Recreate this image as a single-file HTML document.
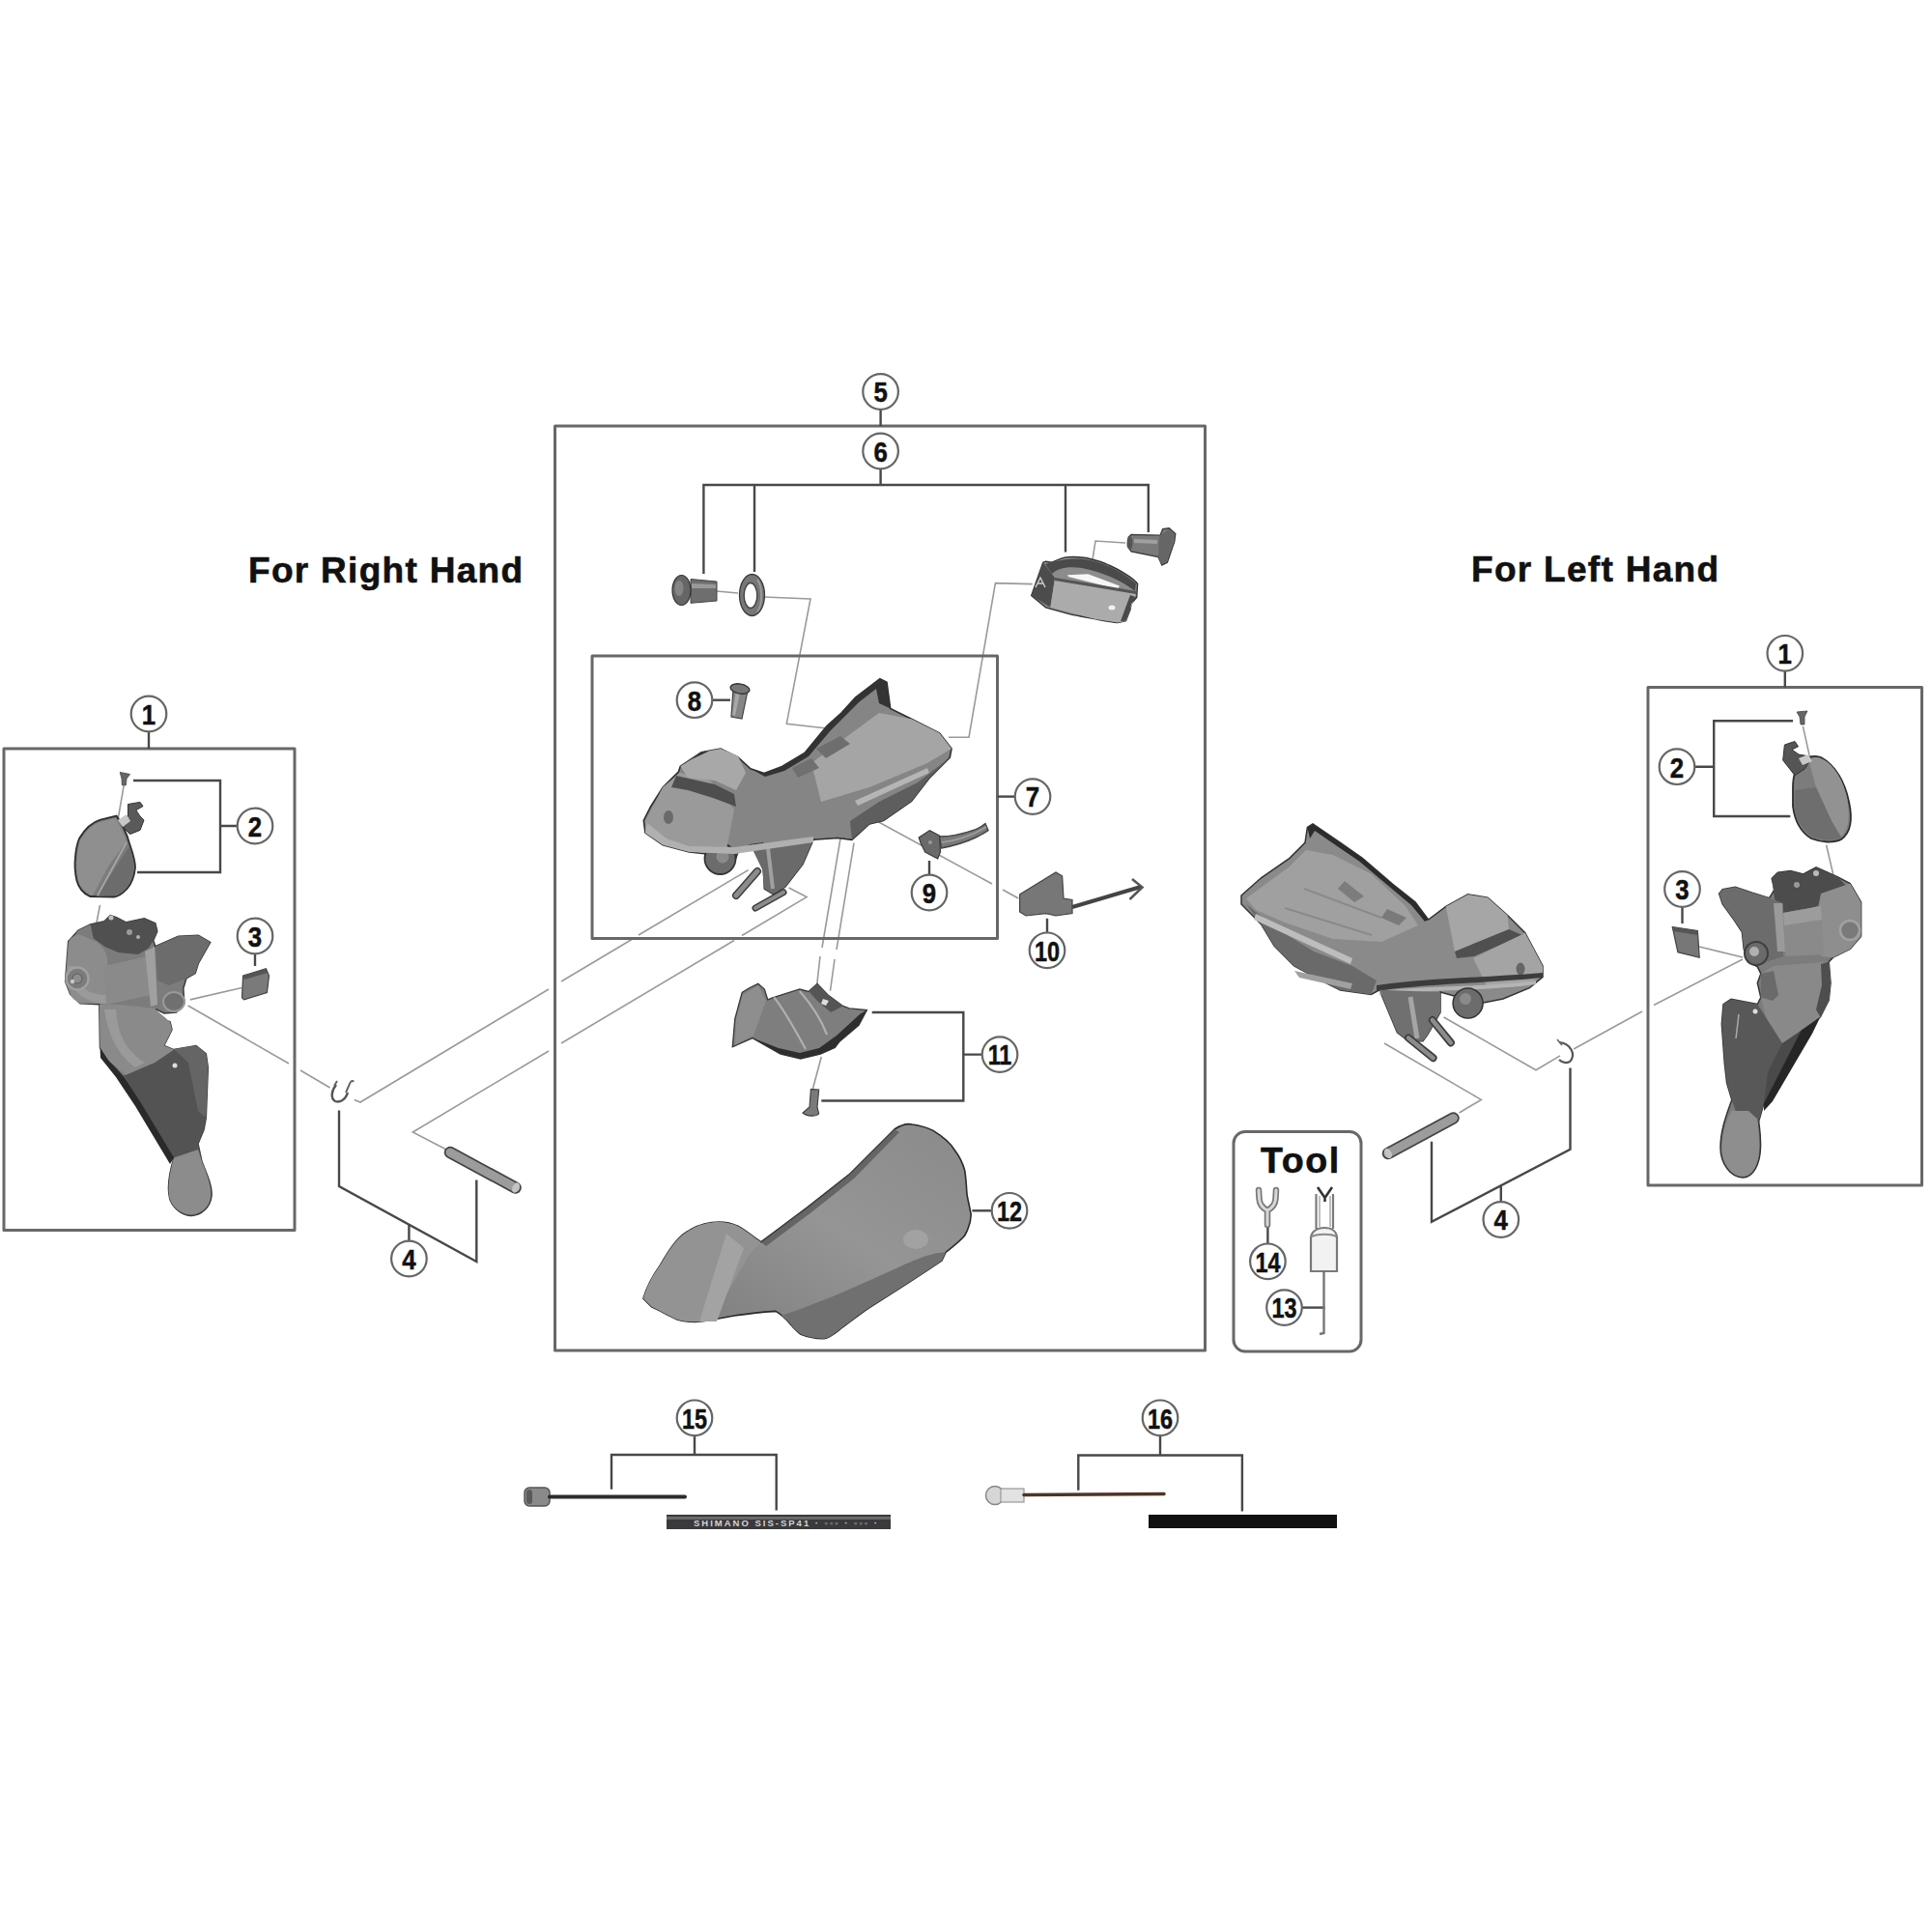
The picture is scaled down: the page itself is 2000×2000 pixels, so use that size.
<!DOCTYPE html>
<html><head><meta charset="utf-8">
<style>
html,body{margin:0;padding:0;background:#fff;width:2000px;height:2000px;overflow:hidden}
svg{display:block}
.fr{fill:none;stroke:#686868;stroke-width:3;stroke-linejoin:round}
.ld{fill:none;stroke:#484848;stroke-width:2.4}
.pj{fill:none;stroke:#9a9a9a;stroke-width:1.6}
.cc{fill:#fff;stroke:#666;stroke-width:2.2}
.nm{font-family:"Liberation Sans",sans-serif;font-weight:bold;font-size:30px;fill:#111;text-anchor:middle;stroke:#111;stroke-width:0.5}
.tt{font-family:"Liberation Sans",sans-serif;font-weight:bold;font-size:37px;fill:#111;letter-spacing:1.3px;stroke:#111;stroke-width:0.6}
</style></head>
<body>
<svg width="2000" height="2000" viewBox="0 0 2000 2000">
<defs>
<linearGradient id="g12" x1="0" y1="1" x2="1" y2="0">
<stop offset="0" stop-color="#7a7a7a"/><stop offset="0.55" stop-color="#959595"/><stop offset="1" stop-color="#8a8a8a"/>
</linearGradient>
</defs>
<rect width="2000" height="2000" fill="#fff"/>

<!-- projection lines -->
<g class="pj" id="proj">
<path d="M128.4,811.8 L122,849"/>
<path d="M103.5,937 L97.3,969"/>
<path d="M196.7,1034.9 L250.5,1022.5"/>
<path d="M194.6,1041 L299,1101 M311,1108 L341.6,1126"/>
<path d="M366.8,1138.5 L373,1141 L568,1024 M581,1016 L654,972.5 M661,968 L774.7,900.6"/>
<path d="M461.5,1189.8 L427.3,1172 L568,1088 M581,1080 L760,973.5 M768,968.5 L835,928.6 L816.6,919"/>
<path d="M742,612 L764,614 M791,618 L839,620 L814.3,749.2 L856,754"/>
<path d="M1068.7,604.6 L1030.4,603.6 L1003,763.2 L982,763.2"/>
<path d="M1165,562 L1134,560 L1128,599"/>
<path d="M872.5,830.7 L1027,915 M1038,921 L1054.3,930"/>
<path d="M870,868 L851,981 M849,990 L845.8,1018.7"/>
<path d="M884,872.6 L866,983 M864,993 L859.5,1025.6"/>
<path d="M850.3,1094 L841.2,1128"/>
<path d="M1433,1080 L1533.3,1138.4 L1510.5,1152"/>
<path d="M1494.6,1053 L1590,1107.7 L1615,1092.9"/>
<path d="M1629,1086 L1700,1047 M1712,1040.5 L1804,993"/>
<path d="M1759,980 L1804,991"/>
<path d="M1890.6,874.8 L1898,906.4"/>
<path d="M1866.4,751.8 L1873,781.6"/>
</g>

<!-- frames -->
<g class="fr">
<rect x="4" y="775" width="301" height="498.5"/>
<rect x="574.5" y="441" width="673" height="957"/>
<rect x="613" y="679" width="419.5" height="292.5"/>
<rect x="1706" y="711.5" width="283.5" height="515.5"/>
<rect x="1277" y="1171.5" width="132" height="227.5" rx="12"/>
</g>

<!-- leaders -->
<g class="ld">
<path d="M154,757V775"/>
<path d="M138,808H228V903H142M228,855H245.5"/>
<path d="M264,987V1000"/>
<path d="M351,1149.5V1228L493.3,1306V1221.5M423.4,1268V1284.5"/>
<path d="M911.6,424V441"/>
<path d="M911.6,485.5V502M728.4,594V502H1188.8V551M781,502V592M1103,502V571.5"/>
<path d="M1032.5,824.6H1050.5"/>
<path d="M737.5,724.7H756"/>
<path d="M962,905.5V891"/>
<path d="M1084,965.3V950.8"/>
<path d="M902.7,1048H997.3V1139.5H850.3M997.3,1091.6H1016.5"/>
<path d="M1006.4,1253.3H1026.5"/>
<path d="M1348,1353.6H1371.6"/>
<path d="M1312.4,1287V1270"/>
<path d="M719,1486V1506M633,1541.7V1506H803.7V1563.5"/>
<path d="M1201,1486V1506.5M1116.3,1542.8V1506.5H1285.9V1564.6"/>
<path d="M1847.8,694.8V711.5"/>
<path d="M1856,746.2H1774.2V845H1853.3M1754.5,793.7H1774.2"/>
<path d="M1741.5,939V956"/>
<path d="M1482,1181.7V1264.8L1625.5,1189.7V1105.4M1553.8,1227.2V1244"/>
</g>

<!-- parts -->
<g id="parts">
<!-- LEFT LEVER (part 1 right-hand) -->
<g id="lever-l">
<path d="M67.6,1015.9 L70.7,974.5 L81,963 L93.5,957 L108,953.8 L114.2,947.6 L120.4,949.7 L130.7,954.8 L149.4,950.7 L160.8,955.9 L162.8,964.2 L158.7,973.5 L160.8,979.7 L184.6,969.3 L205.3,968.3 L217.7,975.5 L205.3,997.3 L202.2,1007.6 L192.9,1012.8 L189.8,1023.2 L190.8,1038.7 L182.5,1048 L170,1049 L161.8,1044.9 L159.7,1054.2 L176,1057.7 L178,1066 L169.8,1082.5 L180,1086.6 L203,1082.5 L213.3,1090.8 L215.3,1105.3 L213.3,1157 L211,1169.5 L205,1184 L209,1202.6 C214,1215 220,1228 219,1238 C218,1250 208,1258 198.8,1258.5 C190,1259 180,1252 176,1242 C173,1232 175,1215 180,1198.4 L145,1140.5 L128.4,1115.6 L111.8,1097 L103.5,1084.6 L102.8,1039.7 L83,1038.7 L72.8,1029.4 Z" fill="#7c7c7c" stroke="#3a3a3a" stroke-width="1.5"/>
<!-- top dark -->
<path d="M93.5,957 L108,953.8 L114.2,947.6 L120.4,949.7 L130.7,954.8 L149.4,950.7 L160.8,955.9 L162.8,964.2 L158.7,973.5 L153.5,981.8 L143,988 L122.5,986 L108,979.7 L96.6,971.4 Z" fill="#505050"/>
<path d="M81,963 L93.5,957 L96.6,971.4 L108,979.7 L104,984 L85,975 L72,976 Z" fill="#7c7c7c"/>
<circle cx="115" cy="950" r="2.5" fill="#c0c0c0"/><circle cx="134" cy="965" r="3" fill="#9a9a9a"/><circle cx="143" cy="970" r="2" fill="#b0b0b0"/>
<!-- front face light -->
<path d="M70.7,976 C73,970 78,967 84,968 L100,975 C106,980 110,985 111,992 L112,1020 L110,1039 L83,1038.7 C78,1036 74,1033 72.8,1029.4 L67.6,1015.9 Z" fill="#8c8c8c"/>
<path d="M70,1000 C72,1025 85,1038 110,1039 L110,1030 C90,1030 78,1020 76,1000 Z" fill="#9a9a9a"/>
<circle cx="80" cy="1013" r="11.5" fill="#7c7c7c" stroke="#a0a0a0" stroke-width="2.5"/>
<circle cx="80" cy="1013" r="5" fill="#8e8e8e" stroke="#6a6a6a" stroke-width="1.5"/>
<circle cx="75" cy="1016" r="2.2" fill="#c8c8c8"/>
<!-- cylinder -->
<path d="M108,1000 L152,990 L157,1030 L110,1040 Z" fill="#8a8a8a"/>
<path d="M150,985 L160,980 L163,1040 L156,1042 Z" fill="#a0a0a0"/>
<!-- wing -->
<path d="M160.8,979.7 L184.6,969.3 L205.3,968.3 L217.7,975.5 L205.3,997.3 L202.2,1007.6 L192.9,1012.8 L175,1020 L163,1015 Z" fill="#6c6c6c"/>
<!-- boss right -->
<ellipse cx="180" cy="1037" rx="11" ry="10" fill="#707070" stroke="#999" stroke-width="2"/>
<!-- lower lever shading -->
<path d="M128,1113 L160,1100 L180,1086.6 L203,1082.5 L213.3,1090.8 L215.3,1105.3 L213.3,1157 L211,1169.5 L205,1184 L209,1202.6 L180,1198.4 L145,1140.5 Z" fill="#535353"/>
<path d="M103.5,1084.6 L102.8,1039.7 L125,1040 L160,1044 L176,1057.7 L178,1066 L169.8,1082.5 L180,1086.6 L160,1100 L130,1113 L112,1098 Z" fill="#8a8a8a"/>
<path d="M108,1045 C112,1070 120,1090 140,1105 L150,1100 C130,1088 122,1070 120,1045 Z" fill="#9a9a9a"/>
<path d="M180,1198.4 C175,1215 173,1232 176,1242 C180,1252 190,1258 198.8,1257 C208,1256 217,1250 218,1238 C219,1228 214,1215 209,1202.6 L205,1190 Z" fill="#8c8c8c"/>
<path d="M103.5,1084.6 L111.8,1097 L128.4,1115.6 L145,1140.5 L180,1198.4 L176,1205 L140,1145 L120,1115 L104,1095 Z" fill="#2a2a2a"/>
<path d="M180,1086 L203,1082.5 L213.3,1090.8 L215.3,1105.3 L213.3,1157 L205,1150 L195,1100 Z" fill="#656565"/>
<circle cx="181" cy="1103" r="2.5" fill="#ddd"/>
</g>
<!-- left cover part 2 -->
<g id="cover-l">
<path d="M82,868 C88,858 96,851 104,848.7 L120.6,844.6 C126,852 131,862 134,873 C137,882 140,890 140,898 C139,908 136,915 131.6,920 C127,925 123,928 118,928.5 L93,928 C86,925 81,918 79.5,911.8 C77.5,903 77,895 78,887 C78.5,880 80,873 82,868 Z" fill="#7c7c7c" stroke="#2e2e2e" stroke-width="1.8"/>
<path d="M83,870 C89,860 96,853 104,851 L119,847 C124,854 128,862 131,871 L112,897 L96,927 L93,926 C87,923 82,917 81,911 C79,903 79,895 80,887 C80.5,880 81.5,874 83,870 Z" fill="#8f8f8f"/>
<path d="M134,876 L100,928 L118,927 C123,926 127,923 131,919 C135,914 138,907 138.5,898 C138.5,890 136,883 134,876 Z" fill="#6c6c6c"/>
<path d="M131,872 L101,927" stroke="#a8a8a8" stroke-width="1.6"/>
<path d="M132.5,832.5 L145,830.4 L148,834.6 L140.8,838.7 L145,845 L149,849 L145,859.4 L134.6,863.6 L128.4,857.4 L132.5,845 Z" fill="#5a5a5a" stroke="#333" stroke-width="1"/>
<path d="M122,849 L131,843 L135,850 L127,856 Z" fill="#c8c8c8"/>
<path d="M124.2,799.4 L134.6,801.5 L131,806 L130.4,812.8 L126.3,812.8 L126,806 Z" fill="#666" stroke="#444" stroke-width="0.8"/>
</g>
<!-- left part 3 -->
<path d="M251.6,1010 L275.4,1002.8 L278.5,1010 L276.4,1027.6 L252.6,1034.9 L250.5,1032.8 Z" fill="#7a7a7a" stroke="#444" stroke-width="1.2"/>
<path d="M251.6,1010 L275.4,1002.8 L277,1007 L253,1014 Z" fill="#555"/>
<!-- left clip -->
<path d="M348,1123 C343,1129 342,1137 347,1140 C352,1142 358,1138 360,1131" fill="none" stroke="#555" stroke-width="2.4"/>
<path d="M346,1124 L349,1119 M358,1131 L362,1122 C363,1119 365,1118 366,1120" fill="none" stroke="#666" stroke-width="2"/>
<!-- left pin -->
<line x1="466" y1="1193" x2="533.5" y2="1229.5" stroke="#444" stroke-width="12.5" stroke-linecap="round"/>
<line x1="466" y1="1193" x2="533.5" y2="1229.5" stroke="#9c9c9c" stroke-width="9" stroke-linecap="round"/>
<ellipse cx="534" cy="1229.5" rx="3.5" ry="5.5" transform="rotate(28 534 1229.5)" fill="#c4c4c4"/>
<!-- P2 -->
<!-- BOX5: bolt 6a -->
<path d="M715,599.5 L742,602 L742,622 L715,624.3 Z" fill="#6e6e6e" stroke="#444" stroke-width="1"/>
<path d="M716,604 L741,605 L741,609 L716,609 Z" fill="#999"/>
<ellipse cx="705.5" cy="611" rx="9.5" ry="15.5" fill="#666" stroke="#333" stroke-width="1.2"/>
<ellipse cx="703" cy="609" rx="4.5" ry="8" fill="#858585"/>
<!-- washer -->
<ellipse cx="778.5" cy="616" rx="13" ry="21.5" fill="#777" stroke="#3a3a3a" stroke-width="1.3"/>
<ellipse cx="777" cy="616.5" rx="6.8" ry="13" fill="#fff" stroke="#444" stroke-width="1.4"/>
<path d="M784,600 C789,606 790,626 784,633" fill="none" stroke="#999" stroke-width="2"/>
<!-- clamp band 6c -->
<path d="M1067.7,616.6 L1079.8,582.2 L1082.6,581.2 L1089.1,582.2 C1095,579 1100,577 1105.9,576.6 C1115,576 1120,577 1124.5,577.5 C1135,580 1142,582 1147.8,585 C1155,588 1160,591 1166.5,595.2 C1171,598 1175,601 1177.6,604.5 L1176.7,618.5 L1171,625 L1170.2,630.6 L1165.5,642.7 L1157.2,644.6 C1150,644 1140,642 1133.9,640.9 C1120,638 1112,637 1105.9,635.3 L1082.6,628.8 Z" fill="#8c8c8c" stroke="#333" stroke-width="1.4"/>
<path d="M1082,584 C1095,580 1105,578 1120,578.5 C1140,581 1160,590 1176,604 L1175,612 C1160,600 1140,592 1120,588 C1105,586 1095,588 1089,594 Z" fill="#4a4a4a"/>
<path d="M1105,595.2 L1126.4,594.3 L1159,606.4 L1157,610 L1129,602.7 L1105.9,597.1 Z" fill="#f6f6f6"/>
<path d="M1067.7,616.6 L1079.8,582.2 L1091.9,598 L1087.3,628.8 Z" fill="#4c4c4c"/>
<path d="M1072,608 L1077,598 L1082,608 M1074,604 L1080,604" fill="none" stroke="#cfcfcf" stroke-width="1.4"/>
<path d="M1091.9,600 L1143.2,608.3 L1176,614 L1170.2,630.6 L1165.5,642.7 L1157.2,644.6 L1133.9,640.9 L1087.3,628.8 Z" fill="#ababab"/>
<path d="M1091.9,598 L1143.2,606.3 L1176,612 L1176,615 L1143.2,609.5 L1091.9,601 Z" fill="#555"/>
<path d="M1170,616 L1176.7,618.5 L1171,625 L1170.2,630.6 L1165.5,642.7 L1160,643 Z" fill="#4a4a4a"/>
<ellipse cx="1151" cy="629" rx="3.5" ry="2.5" fill="#f0f0f0"/>
<!-- T-bolt 6d -->
<path d="M1168.3,556 L1171,553.3 L1201,554.2 L1203.7,547.7 L1210.3,546.8 L1216.8,552.4 L1215.8,560.7 L1208.4,582.2 L1202.8,585 L1199,576.6 L1171,571 L1167.4,565.4 Z" fill="#7a7a7a" stroke="#3a3a3a" stroke-width="1.3"/>
<path d="M1200,555 L1210,548 L1216,553 L1208,582 L1202,584 L1199,576 Z" fill="#666"/>
<path d="M1174,558 L1198,559 L1198,563 L1174,562 Z" fill="#a0a0a0"/>
<ellipse cx="1169.5" cy="562" rx="3" ry="7" fill="#555"/>
<!-- BODY part 7 -->
<g id="body7">
<path d="M666.3,849.4 L668,862 L686.2,874.8 L713.4,882 L729.7,883.8 L731.5,893 L746,903 L758.7,897 L764,882 L776.8,874.8 L789.5,873 L791.3,920 L800.4,925.5 L813,918 L831,894.7 L842,869.3 L867.4,867.5 L881.9,869.3 L900,853 L914.5,849.4 L943.5,829.5 L961.6,806 L983.3,784.2 L985,775 L972.5,758.8 L943.5,744.3 L921.7,733.5 L918,706.3 L910.9,702.7 L885.5,722 L871,738 L856,751.5 L833,779.5 L809.6,793.5 L791,800.4 L777,795.8 L764,784 L746,775.1 L726,778.8 L704.3,793.3 L702.5,798.7 L686.2,815 L673.6,835 Z" fill="#858585" stroke="#2e2e2e" stroke-width="1.6"/>
<!-- lower structure -->
<path d="M776.8,874.8 L789.5,873 L842,869.3 L831,894.7 L813,918 L800.4,925.5 L791.3,920 L789,900 Z" fill="#6a6a6a"/>
<circle cx="745.5" cy="889" r="16" fill="#6c6c6c" stroke="#333" stroke-width="1.8"/>
<circle cx="748" cy="887" r="6.5" fill="#8a8a8a"/>
<path d="M762,927 L784,902" stroke="#3e3e3e" stroke-width="8" stroke-linecap="round"/>
<path d="M762,927 L784,902" stroke="#8c8c8c" stroke-width="5" stroke-linecap="round"/>
<path d="M782,940 L811,923.7" stroke="#3e3e3e" stroke-width="7" stroke-linecap="round"/>
<path d="M782,940 L811,923.7" stroke="#8c8c8c" stroke-width="4" stroke-linecap="round"/>
<path d="M795,878 L800,920" stroke="#a0a0a0" stroke-width="4"/>
<!-- front light face -->
<path d="M668,850 L686,815 L704,800 L735,808 L760,838 L752,880 L729,883 L713,881 L686,874 L668,862 Z" fill="#9a9a9a"/>
<path d="M668,862 L686.2,874.8 L713.4,882 L760,884 L842,872 L842,866 L760,877 L713,876 L690,868 L670,852 Z" fill="#b0b0b0"/>
<ellipse cx="692" cy="846" rx="5" ry="7" fill="#6a6a6a"/>
<!-- top block -->
<path d="M704.3,793.3 L726,778.8 L746,775.1 L764,782.4 L772,800 L762,818 L740,808 L712,805 Z" fill="#a8a8a8"/>
<path d="M700,803 L740,812 L760,822 L762,835 L738,826 L712,818 L695,815 Z" fill="#4e4e4e"/>
<path d="M704.3,793.3 L726,778.8 L746,775.1 L735,777 L716,786 Z" fill="#2e2e2e"/>
<!-- top dark rim -->
<path d="M777,795.8 L791,800.4 L809.6,793.5 L833,779.5 L856,751.5 L871,738 L885.5,722 L910.9,702.7 L918,706.3 L921.7,733.5 L910,728 L907,713 L889,727 L874,742 L860,756 L837,783 L812,798 L792,804 Z" fill="#333"/>
<!-- top surface light -->
<path d="M840,790 L880,760 L910,738 L943.5,744.3 L972.5,758.8 L985,775 L960,790 L900,815 L850,830 Z" fill="#a5a5a5"/>
<path d="M845,775 L870,762 L880,770 L855,785 Z" fill="#6e6e6e"/>
<path d="M820,795 L840,785 L848,795 L826,805 Z" fill="#707070"/>
<!-- right underside dark -->
<path d="M983.3,784.2 L961.6,806 L943.5,829.5 L914.5,849.4 L900,853 L881.9,869.3 L880,850 L910,830 L950,810 Z" fill="#5e5e5e"/>
<path d="M885,829 L960,795 L962,800 L888,834 Z" fill="#b5b5b5"/>
</g>
<!-- pin 8 -->
<path d="M759,713 L774,715 L768,744 L757,742 Z" fill="#868686" stroke="#444" stroke-width="1.2"/>
<path d="M762,716 L766,717 L761,741 L758,740 Z" fill="#a8a8a8"/>
<ellipse cx="766" cy="713" rx="10" ry="5" transform="rotate(10 766 713)" fill="#777" stroke="#333" stroke-width="1.3"/>
<!-- part 9 -->
<path d="M972,866 C980,866 995,864 1010,858.6 C1014,857 1017,855 1020,852.6 L1023,859.6 C1018,863 1014,865 1010,867 C995,874 985,876 974.5,878 Z" fill="#7a7a7a" stroke="#444" stroke-width="1.4"/>
<path d="M975,872 C990,870 1005,866 1021,856" fill="none" stroke="#a0a0a0" stroke-width="1.5"/>
<path d="M951.2,867 L962.4,859.6 L972.6,865 L973.5,882 L970.7,889 L957.7,882 L953,872.6 Z" fill="#6a6a6a" stroke="#3a3a3a" stroke-width="1.2"/>
<circle cx="963" cy="872" r="2" fill="#999"/>
<!-- part 10 -->
<path d="M1057,925 L1093,903 L1099.6,906.8 L1101,930 L1110,931.4 L1110,945.6 L1093,948 L1082.8,945.6 L1062,948 L1055.6,944 L1055.6,926 Z" fill="#777" stroke="#444" stroke-width="1.2"/>
<path d="M1110,939 L1181,918" stroke="#444" stroke-width="4"/>
<path d="M1172,910 L1182.5,918.5 L1169.5,931" fill="none" stroke="#555" stroke-width="2.5"/>
<!-- part 11 -->
<path d="M758.3,1083.7 L760.8,1054.7 L768.2,1027.4 L774.8,1023.2 L784.8,1018.3 L791.4,1024 L794.7,1034.8 L801.3,1032.3 L827.8,1024 L837,1026.5 L846,1018.3 L856.8,1029.8 L872.6,1041.4 L879.2,1043.9 L897.4,1045.6 L889,1061.3 L869.3,1077.9 L864.3,1084.5 L849.4,1091.1 L828.7,1096 L808,1091.1 L779,1074.6 Z" fill="#7e7e7e" stroke="#3a3a3a" stroke-width="1.3"/>
<path d="M760.8,1082 L762,1055 L769,1030 L785,1020 L793,1036 L780,1072 Z" fill="#8e8e8e"/>
<path d="M801.3,1032.3 C815,1050 825,1070 834,1086" fill="none" stroke="#b0b0b0" stroke-width="2.2"/>
<path d="M827.8,1026 C840,1040 850,1055 856,1071" fill="none" stroke="#b0b0b0" stroke-width="2.2"/>
<path d="M779,1074.6 L808,1091.1 L828.7,1096 L849.4,1091.1 L864.3,1084.5 L869.3,1077.9 L889,1061.3 L897.4,1045.6 L890,1050 L866,1072 L848,1085 L828,1090 L806,1085 Z" fill="#2e2e2e"/>
<path d="M846,1018.3 L856.8,1029.8 L872.6,1041.4 L860,1048 L845,1035 L838,1027 Z" fill="#555"/>
<path d="M852,1034 L858,1036 L855,1041 L850,1039 Z" fill="#ddd"/>
<path d="M839.4,1127.6 L847.7,1128 L846,1146 L847.7,1153 C845,1156 835,1156 831,1152 L838,1146 Z" fill="#7a7a7a" stroke="#3e3e3e" stroke-width="1.1"/>
<!-- part 12 cover -->
<path d="M666,1344.3 C670,1330 676,1320 683.5,1309.6 C692,1295 700,1282 711.7,1274.8 C722,1268 733,1265 744.3,1265 C752,1265 760,1267 766,1270.4 C775,1276 782,1282 787.8,1285.7 L835.7,1250 L879,1216 L926,1169 C935,1163 940,1163 944.3,1164 C952,1165 959,1167 966,1170.4 C975,1176 983,1182 987.8,1190 C994,1198 997,1205 998.7,1211.7 C1000,1220 1000.5,1228 1000.9,1235.7 C1002,1243 1004,1250 1005.2,1257.4 C1005,1265 1002,1273 998.7,1279 C992,1287 985,1291 979,1296.5 L974.8,1305.2 C950,1322 925,1338 900.9,1353 C890,1360 878,1370 868.3,1377 C862,1382 858,1385 853,1385.7 C845,1386 836,1384 829,1381.3 C822,1376 818,1370 814,1366 C810,1362 806,1359 803,1357.4 C790,1358 775,1360 761.7,1361.7 C748,1364 735,1367 722.6,1368.3 C715,1368.5 707,1368 701,1366 C692,1362 682,1356 674.8,1353 Z" fill="url(#g12)" stroke="#2a2a2a" stroke-width="1.6"/>
<path d="M666,1344.3 C670,1330 676,1320 683.5,1309.6 C692,1295 700,1282 711.7,1274.8 C722,1268 733,1265 744.3,1265 C752,1265 760,1267 766,1270.4 C775,1276 782,1282 787.8,1285.7 L775,1300 L752,1340 L727,1368 C715,1368.5 707,1368 701,1366 C692,1362 682,1356 674.8,1353 Z" fill="#939393"/>
<path d="M752,1277 L770,1292 L742,1368 L724,1368 Z" fill="#a3a3a3"/>
<path d="M808,1362 C840,1352 880,1335 930,1312 C955,1300 970,1296 979,1296.5 L974.8,1305.2 C950,1322 925,1338 900.9,1353 C890,1360 878,1370 868.3,1377 C862,1382 858,1385 853,1385.7 C845,1386 836,1384 829,1381.3 C822,1376 818,1370 814,1366 Z" fill="#707070"/>
<ellipse cx="948" cy="1283" rx="13" ry="10" fill="#a2a2a2"/>
<path d="M787.8,1285.7 L835.7,1250 L879,1216 L926,1169 L931,1172 L884,1220 L840,1255 L793,1290 Z" fill="#5a5a5a" opacity="0.8"/>
<!-- P3 -->
<!-- RIGHT BRACKET -->
<g id="body-r">
<path d="M1285,927 L1305.5,908.8 L1335,888.3 L1351,872.4 L1353.4,856.4 L1359,853 L1387.5,872.4 L1410.3,888.3 L1442,915.6 L1465,933.9 L1478.6,952 L1496.8,938.4 L1519.6,925.9 L1540,929.3 L1560.6,947.5 L1578.8,965.8 L1597,1000 L1597,1011.3 L1583.4,1022.7 L1556,1034 L1533.3,1038.6 L1491,1027 L1491,1048 L1477.8,1071.2 L1472.9,1077.8 L1458,1077.8 L1446.4,1068.7 L1428,1024.8 L1419.4,1029.5 L1387.5,1025 L1369.3,1015.9 L1339.7,999.9 L1319.2,979.4 L1305.5,956.6 L1285,936 Z" fill="#8a8a8a" stroke="#333" stroke-width="1.5"/>
<path d="M1290,930 L1335,897 L1352,880 L1380,885 L1420,905 L1455,938 L1468,958 L1430,975 L1380,972 L1330,955 L1300,942 Z" fill="#a0a0a0"/>
<path d="M1353.4,856.4 L1359,853 L1387.5,872.4 L1410.3,888.3 L1442,915.6 L1465,933.9 L1478.6,952 L1475,954 L1461,937 L1439,918.5 L1407,891.5 L1385,876.5 L1361,860 L1356,868 Z" fill="#2c2c2c"/>
<path d="M1290,936 L1305.5,956.6 L1319.2,979.4 L1339.7,999.9 L1369.3,1015.9 L1387.5,1025 L1419.4,1029.5 L1425,1015 L1400,1000 L1360,985 L1320,960 Z" fill="#6a6a6a"/>
<path d="M1300,946 L1400,992 L1398,998 L1298,952 Z" fill="#bdbdbd"/>
<path d="M1340,1005 L1400,1018 L1398,1024 L1345,1012 Z" fill="#a0a0a0"/>
<path d="M1392,912 L1412,928 L1402,934 L1385,920 Z" fill="#7c7c7c"/>
<path d="M1330,940 L1420,968 M1350,920 L1430,950" stroke="#8a8a8a" stroke-width="2"/>
<path d="M1436,941 L1456,950 L1448,958 L1430,950 Z" fill="#7a7a7a"/>
<path d="M1496.8,938.4 L1519.6,925.9 L1540,929.3 L1560.6,947.5 L1562,962 L1506,985 Z" fill="#a6a6a6"/>
<path d="M1506,985 L1562,962 L1576,968 L1526,990 L1508,992 Z" fill="#505050"/>
<path d="M1525,992 L1578.8,965.8 L1597,1000 L1597,1011.3 L1565,1022 L1540,1022 Z" fill="#a4a4a4"/>
<ellipse cx="1574" cy="1003" rx="4.5" ry="6.5" fill="#666"/>
<path d="M1425,1020 C1480,1012 1540,1012 1597,1007 L1597,1012 C1540,1018 1480,1018 1425,1026 Z" fill="#3c3c3c"/>
<path d="M1428,1026 C1480,1020 1540,1022 1590,1015 L1590,1019 C1540,1026 1480,1024 1428,1030 Z" fill="#b4b4b4"/>
<path d="M1428,1024.8 L1446.4,1068.7 L1458,1077.8 L1472.9,1077.8 L1477.8,1071.2 L1491,1048 L1491,1027 Z" fill="#707070"/>
<path d="M1460,1032 L1467,1075" stroke="#a5a5a5" stroke-width="5"/>
<circle cx="1519.6" cy="1038.6" r="15.5" fill="#6c6c6c" stroke="#333" stroke-width="1.5"/>
<circle cx="1517" cy="1034" r="6" fill="#8a8a8a"/>
<path d="M1458,1074.5 L1483.6,1095.2" stroke="#3e3e3e" stroke-width="8" stroke-linecap="round"/>
<path d="M1458,1074.5 L1483.6,1095.2" stroke="#8c8c8c" stroke-width="4.5" stroke-linecap="round"/>
<path d="M1482.8,1056 L1501.9,1079.4" stroke="#3e3e3e" stroke-width="8" stroke-linecap="round"/>
<path d="M1482.8,1056 L1501.9,1079.4" stroke="#8c8c8c" stroke-width="4.5" stroke-linecap="round"/>
</g>
<!-- right pin -->
<line x1="1437" y1="1194" x2="1504.5" y2="1157.5" stroke="#444" stroke-width="12.5" stroke-linecap="round"/>
<line x1="1437" y1="1194" x2="1504.5" y2="1157.5" stroke="#9c9c9c" stroke-width="9" stroke-linecap="round"/>
<ellipse cx="1437" cy="1194" rx="3.5" ry="5.5" transform="rotate(-28 1437 1194)" fill="#c4c4c4"/>
<!-- right clip -->
<path d="M1614,1079 C1626,1080 1632,1092 1625,1099 C1621,1101 1617,1100 1614,1097" fill="none" stroke="#555" stroke-width="2.2"/>
<path d="M1612,1076 L1617,1082" fill="none" stroke="#666" stroke-width="1.6"/>
<!-- tool 14 fork -->
<path d="M1303,1232 L1303.5,1241 C1304,1248 1308,1251 1312,1253 C1316,1251 1320,1248 1320.5,1241 L1321,1232 M1312,1253 L1312,1268" fill="none" stroke="#7a7a7a" stroke-width="6.5" stroke-linecap="round"/>
<path d="M1303,1232 L1303.5,1241 C1304,1248 1308,1251 1312,1253 C1316,1251 1320,1248 1320.5,1241 L1321,1232 M1312,1253 L1312,1268" fill="none" stroke="#d8d8d8" stroke-width="3" stroke-linecap="round"/>
<!-- tool 13 -->
<path d="M1362.5,1236 L1362.5,1272 M1380,1236 L1380,1272" fill="none" stroke="#7a7a7a" stroke-width="2.2"/>
<path d="M1366,1238 L1366,1270 M1377,1238 L1377,1270" fill="none" stroke="#aaa" stroke-width="1.5"/>
<path d="M1364,1229 L1371.5,1240 L1379,1229 M1371.5,1240 L1371.5,1244" fill="none" stroke="#333" stroke-width="2.6"/>
<path d="M1357,1316 L1357,1282 C1357,1276 1362,1271 1371,1271 C1380,1271 1384,1276 1384,1282 L1384,1316 Z" fill="#f2f2f2" stroke="#7a7a7a" stroke-width="2.2"/>
<path d="M1357.5,1280 C1365,1277 1377,1277 1383.5,1280" fill="none" stroke="#8a8a8a" stroke-width="2"/>
<path d="M1370.5,1316.5 L1370.5,1380 L1366,1381" fill="none" stroke="#777" stroke-width="2.4"/>
<!-- RIGHT LEVER part 1 (left-hand) -->
<g id="lever-r">
<path d="M1779.7,925.2 L1783.2,935.8 L1794.6,951.6 L1803.4,964.8 L1805.2,982.4 L1809.6,995.6 L1819.3,1000.9 L1822.8,1007.9 L1819.3,1017.6 L1822.8,1032.5 L1819.3,1039.6 L1792,1034.3 L1784,1039.6 L1782.3,1060 L1785.3,1101 L1787.6,1121 L1792.8,1138.5 C1787,1155 1781,1170 1781,1188 C1781,1205 1792,1219 1804,1219 C1815,1219 1822,1205 1822.5,1188 C1823,1175 1821,1165 1820.7,1160.9 L1826,1142 L1864.6,1066.7 L1884.4,1052.8 L1893.2,1035.2 L1895,1017.6 L1893.2,995.6 L1897.6,991.2 L1915.2,982.4 L1926.6,969.2 L1926.6,934 L1915.2,914.6 L1902,907.6 L1880,897.9 L1866.8,905 L1853.6,901.4 L1840.4,903.2 L1834.2,909.4 L1836.9,920.8 L1831.6,929.6 L1814,924.3 L1796.4,918.2 L1783.2,920.8 Z" fill="#7c7c7c" stroke="#333" stroke-width="1.5"/>
<!-- top dark -->
<path d="M1834.2,909.4 L1840.4,903.2 L1853.6,901.4 L1866.8,905 L1880,897.9 L1902,907.6 L1912,918 L1890,935 L1860,945 L1845,945 L1836.9,930 Z" fill="#4c4c4c"/>
<circle cx="1880" cy="904" r="3" fill="#bbb"/><circle cx="1860" cy="916" r="3" fill="#999"/>
<!-- housing front block -->
<path d="M1885,925 L1915.2,914.6 L1926.6,934 L1926.6,969.2 L1915.2,982.4 L1897.6,991.2 L1885,990 L1880,950 Z" fill="#8e8e8e"/>
<circle cx="1915" cy="963" r="10" fill="#7a7a7a" stroke="#a2a2a2" stroke-width="2.5"/>
<!-- cylinder -->
<path d="M1846,945 L1885,938 L1888,988 L1848,990 Z" fill="#8a8a8a"/>
<path d="M1846,945 L1885,938 L1886,952 L1847,958 Z" fill="#9c9c9c"/>
<!-- wing -->
<path d="M1779.7,925.2 L1783.2,920.8 L1796.4,918.2 L1814,924.3 L1831.6,929.6 L1846,935 L1846,990 L1822,998 L1809.6,995.6 L1805.2,982.4 L1803.4,964.8 L1794.6,951.6 L1783.2,935.8 Z" fill="#6c6c6c"/>
<path d="M1836,935 L1845,935 L1848,985 L1840,985 Z" fill="#9a9a9a"/>
<circle cx="1818" cy="987" r="12" fill="#6a6a6a" stroke="#3e3e3e" stroke-width="2"/>
<circle cx="1816" cy="985" r="5" fill="#b0b0b0"/>
<!-- lever stem -->
<path d="M1836,1000 L1893.2,995.6 L1895,1017.6 L1893.2,1035.2 L1884.4,1052.8 L1864.6,1066.7 L1845,1080 L1830,1060 L1822.8,1032.5 L1822.8,1007.9 Z" fill="#898989"/>
<path d="M1893.2,995.6 L1895,1017.6 L1893.2,1035.2 L1884.4,1052.8 L1880,1045 L1886,1020 L1885,998 Z" fill="#4e4e4e"/>
<path d="M1822.8,1007.9 L1836,1005 L1841,1030 L1835.1,1036 L1822.8,1032.5 Z" fill="#6a6a6a"/>
<!-- dark lower block -->
<path d="M1784,1039.6 L1792,1034.3 L1819.3,1039.6 L1845,1080 L1826,1142 L1820.7,1160.9 L1800,1160 L1792.8,1138.5 L1787.6,1121 L1785.3,1101 L1782.3,1060 Z" fill="#585858"/>
<path d="M1864.6,1066.7 L1884.4,1052.8 L1876,1070 L1835,1140 L1826,1150 L1826,1142 Z" fill="#262626"/>
<path d="M1845,1080 L1864.6,1066.7 L1826,1142 L1830,1110 Z" fill="#4a4a4a"/>
<!-- grip -->
<path d="M1792.8,1150 C1787,1160 1782.5,1172 1782.5,1188 C1782.5,1204 1792,1217.5 1804,1217.5 C1815,1217.5 1821,1204 1821,1188 C1821,1175 1820,1165 1819,1158 L1810,1150 Z" fill="#8e8e8e"/>
<path d="M1800,1050 L1797,1075" stroke="#aaa" stroke-width="1.5"/>
<circle cx="1817" cy="1047" r="2.5" fill="#ddd"/>
</g>
<!-- right cover part 2 -->
<g id="cover-r">
<path d="M1856,815 C1856,800 1861,791 1868,786 C1873,782.5 1879,782 1885,784 C1900,792 1910,810 1914,830 C1918,848 1916,862 1906,869 C1898,873 1885,872 1875,868 C1865,862 1858,850 1856,835 Z" fill="#7c7c7c" stroke="#2e2e2e" stroke-width="1.8"/>
<path d="M1872,786 C1879,783 1885,784 1892,789 C1903,798 1911,815 1913,832 C1915,848 1913,860 1906,866 L1896,850 L1880,815 Z" fill="#929292"/>
<path d="M1858,818 L1880,815 L1896,850 L1906,867 C1898,871 1885,870 1876,866 C1866,860 1859,848 1857.5,835 Z" fill="#6e6e6e"/>
<path d="M1847.4,771 L1858,767.5 L1861.5,772.8 L1855,776 L1862,781 L1875.6,783.4 L1868.6,795.7 L1858,802.7 L1845.7,787 Z" fill="#555" stroke="#333" stroke-width="1"/>
<path d="M1862,785 L1872,781 L1876,788 L1866,792 Z" fill="#c8c8c8"/>
<path d="M1860,737 L1871,736 L1868,742 L1868,750 L1864,750 L1863,742 Z" fill="#666" stroke="#444" stroke-width="0.8"/>
</g>
<!-- right part 3 -->
<path d="M1731.3,959.6 L1757.4,963.4 L1759.2,991.3 L1736.9,985.7 Z" fill="#777" stroke="#444" stroke-width="1.2"/>
<path d="M1731.3,959.6 L1757.4,963.4 L1757.8,968 L1732,964 Z" fill="#555"/>
<!-- cable 15 -->
<rect x="543" y="1540" width="26" height="19" rx="5" fill="#8a8a8a" stroke="#555" stroke-width="1.5"/>
<rect x="545" y="1542" width="6" height="15" rx="3" fill="#5a5a5a"/>
<line x1="569" y1="1549.5" x2="709" y2="1549.5" stroke="#2c2c2c" stroke-width="4" stroke-linecap="round"/>
<rect x="690" y="1568" width="232" height="15" fill="#3a3a3d"/>
<rect x="690" y="1570" width="232" height="3" fill="#6a6a6e"/>
<text x="718" y="1580" font-family="Liberation Sans, sans-serif" font-size="9.5" font-weight="bold" fill="#d4d4d4" textLength="190" lengthAdjust="spacing">SHIMANO SIS-SP41 · ◦◦◦ · ◦◦◦ ·</text>
<!-- cable 16 -->
<circle cx="1030" cy="1548" r="9.5" fill="#d6d6d6" stroke="#888" stroke-width="1.5"/>
<rect x="1036" y="1541" width="24" height="14" fill="#e2e2e2" stroke="#999" stroke-width="1.2"/>
<line x1="1060" y1="1547.5" x2="1205" y2="1546.5" stroke="#4e3426" stroke-width="3.5" stroke-linecap="round"/>
<rect x="1189" y="1568" width="195" height="14" fill="#111"/>
<!--P4-->
</g>

<!-- callouts -->
<g id="callouts">
<circle class="cc" cx="154.0" cy="739.0" r="18.3"/><text class="nm" transform="translate(154.0,749.8) scale(0.86,1)">1</text>
<circle class="cc" cx="264.0" cy="855.0" r="18.3"/><text class="nm" transform="translate(264.0,865.8) scale(0.86,1)">2</text>
<circle class="cc" cx="264.0" cy="969.0" r="18.3"/><text class="nm" transform="translate(264.0,979.8) scale(0.86,1)">3</text>
<circle class="cc" cx="423.4" cy="1303.0" r="18.3"/><text class="nm" transform="translate(423.4,1313.8) scale(0.86,1)">4</text>
<circle class="cc" cx="911.6" cy="405.5" r="18.3"/><text class="nm" transform="translate(911.6,416.3) scale(0.86,1)">5</text>
<circle class="cc" cx="911.6" cy="467.0" r="18.3"/><text class="nm" transform="translate(911.6,477.8) scale(0.86,1)">6</text>
<circle class="cc" cx="1069.0" cy="824.6" r="18.3"/><text class="nm" transform="translate(1069.0,835.4) scale(0.86,1)">7</text>
<circle class="cc" cx="719.0" cy="724.7" r="18.3"/><text class="nm" transform="translate(719.0,735.5) scale(0.86,1)">8</text>
<circle class="cc" cx="962.0" cy="924.0" r="18.3"/><text class="nm" transform="translate(962.0,934.8) scale(0.86,1)">9</text>
<circle class="cc" cx="1084.0" cy="983.8" r="18.3"/><text class="nm" transform="translate(1084.0,994.6) scale(0.78,1)">10</text>
<circle class="cc" cx="1035.0" cy="1091.6" r="18.3"/><text class="nm" transform="translate(1035.0,1102.4) scale(0.78,1)">11</text>
<circle class="cc" cx="1045.0" cy="1253.3" r="18.3"/><text class="nm" transform="translate(1045.0,1264.1) scale(0.78,1)">12</text>
<circle class="cc" cx="1329.5" cy="1353.6" r="18.3"/><text class="nm" transform="translate(1329.5,1364.4) scale(0.78,1)">13</text>
<circle class="cc" cx="1312.4" cy="1305.8" r="18.3"/><text class="nm" transform="translate(1312.4,1316.6) scale(0.78,1)">14</text>
<circle class="cc" cx="719.0" cy="1467.8" r="18.3"/><text class="nm" transform="translate(719.0,1478.6) scale(0.78,1)">15</text>
<circle class="cc" cx="1201.0" cy="1467.8" r="18.3"/><text class="nm" transform="translate(1201.0,1478.6) scale(0.78,1)">16</text>
<circle class="cc" cx="1847.8" cy="676.3" r="18.3"/><text class="nm" transform="translate(1847.8,687.1) scale(0.86,1)">1</text>
<circle class="cc" cx="1736.0" cy="793.7" r="18.3"/><text class="nm" transform="translate(1736.0,804.5) scale(0.86,1)">2</text>
<circle class="cc" cx="1741.5" cy="920.5" r="18.3"/><text class="nm" transform="translate(1741.5,931.3) scale(0.86,1)">3</text>
<circle class="cc" cx="1553.8" cy="1262.5" r="18.3"/><text class="nm" transform="translate(1553.8,1273.3) scale(0.86,1)">4</text>
</g>

<text class="tt" x="257" y="602.5">For Right Hand</text>
<text class="tt" x="1523" y="602">For Left Hand</text>
<text class="tt" x="1305" y="1214.3" style="font-size:37.5px;letter-spacing:1.6px">Tool</text>
</svg>
</body></html>
